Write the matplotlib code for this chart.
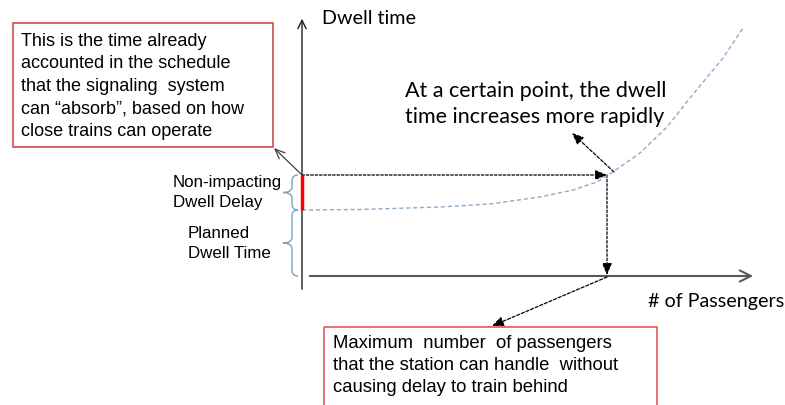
import matplotlib
matplotlib.use("Agg")
import matplotlib.pyplot as plt
from matplotlib.patches import FancyArrowPatch, Rectangle, PathPatch
from matplotlib.path import Path

# ---- data (pixel-space schematic values) ----
curve_x = [302, 360, 440, 490, 540, 573, 597, 613, 640, 667, 690, 723, 743]
curve_y = [210, 209.5, 207, 204, 197, 190, 182, 172, 153, 127, 98, 58, 28]
threshold_y = 175          # dwell time at which delay starts
planned_y = 210            # planned dwell time
max_pass_x = 607           # max passengers
origin = (302, 276)

box1_lines = ["This is the time already",
              "accounted in the schedule",
              "that the signaling  system",
              "can \u201cabsorb\u201d, based on how",
              "close trains can operate"]
box2_lines = ["Maximum  number  of passengers",
              "that the station can handle  without",
              "causing delay to train behind"]
rapid_lines = ["At a certain point, the dwell",
               "time increases more rapidly"]

W, H = 785, 405
fig = plt.figure(figsize=(W / 100, H / 100), dpi=100)
ax = fig.add_axes([0, 0, 1, 1])
ax.set_xlim(0, W)
ax.set_ylim(H, 0)
ax.axis("off")

arial = "Liberation Sans"
calibri = "Lato"

# axes
ax.add_patch(FancyArrowPatch((origin[0], 292), (origin[0], 16), arrowstyle="->,head_length=6,head_width=3",
                             color="#222222", lw=1.0, mutation_scale=1))
ax.add_patch(FancyArrowPatch((307, origin[1]), (756, origin[1]), arrowstyle="->,head_length=8,head_width=4",
                             color="#595959", lw=1.5, mutation_scale=1))

# curve
ax.plot(curve_x, curve_y, ls=(0, (3, 2)), color="#8eaacb", lw=1.0)

# red segment
ax.plot([origin[0], origin[0]], [threshold_y, planned_y], color="#ff0000", lw=2.5, solid_capstyle="butt")

# dotted guides
ax.add_patch(FancyArrowPatch((origin[0], threshold_y), (max_pass_x, threshold_y),
                             arrowstyle="-|>,head_length=7,head_width=3", color="black", lw=0.9,
                             ls=(0, (2, 1.5)), mutation_scale=1, shrinkA=0, shrinkB=0))
ax.add_patch(FancyArrowPatch((max_pass_x, threshold_y), (max_pass_x, origin[1] - 1),
                             arrowstyle="-|>,head_length=7,head_width=3", color="black", lw=0.9,
                             ls=(0, (2, 1.5)), mutation_scale=1, shrinkA=0, shrinkB=0))
ax.add_patch(FancyArrowPatch((614, 172), (572, 133),
                             arrowstyle="-|>,head_length=7,head_width=3", color="black", lw=0.9,
                             ls=(0, (2.5, 1.5)), mutation_scale=1, shrinkA=0, shrinkB=0))
ax.add_patch(FancyArrowPatch((max_pass_x, 277), (492, 326),
                             arrowstyle="-|>,head_length=7,head_width=3", color="black", lw=0.9,
                             ls=(0, (2.5, 1.5)), mutation_scale=1, shrinkA=0, shrinkB=0))
# solid arrow to box 1
ax.add_patch(FancyArrowPatch((origin[0], threshold_y), (274, 148),
                             arrowstyle="->,head_length=7,head_width=3", color="#404040", lw=0.9,
                             mutation_scale=1, shrinkA=0, shrinkB=0))

# braces
def brace(y0, y1, xr=298, xs=292, xt=283, d=6, color="#7da0c8"):
    ym = (y0 + y1) / 2
    verts = [(xr, y0), (xs, y0), (xs, y0 + d),
             (xs, ym - d), (xs, ym), (xt, ym),
             (xs, ym), (xs, ym + d),
             (xs, y1 - d), (xs, y1), (xr, y1)]
    codes = [Path.MOVETO, Path.CURVE3, Path.CURVE3,
             Path.LINETO, Path.CURVE3, Path.CURVE3,
             Path.CURVE3, Path.CURVE3,
             Path.LINETO, Path.CURVE3, Path.CURVE3]
    ax.add_patch(PathPatch(Path(verts, codes), fill=False, edgecolor=color, lw=1.0))

brace(threshold_y, planned_y)
brace(planned_y, origin[1])

# boxes
ax.add_patch(Rectangle((13, 23), 260, 124, fill=False, edgecolor="#c9504d", lw=1.2))
ax.add_patch(Rectangle((324, 327), 333, 80, fill=False, edgecolor="#e05a5a", lw=1.2))

for i, t in enumerate(box1_lines):
    ax.text(21, 41 + i * 22.6, t, fontsize=13.0, family=arial, va="center", ha="left", color="black")
for i, t in enumerate(box2_lines):
    ax.text(333, 344 + i * 22, t, fontsize=13.3, family=arial, va="center", ha="left", color="black")

for i, t in enumerate(rapid_lines):
    ax.text(405, 91 + i * 26, t, fontsize=15.5, family=calibri, va="center", ha="left", color="black")

ax.text(322, 19, "Dwell time", fontsize=14.2, family=calibri, va="center", ha="left")
ax.text(648, 301, "# of Passengers", fontsize=14.2, family=calibri, va="center", ha="left")

ax.text(282, 183, "Non-impacting", fontsize=12.2, family=arial, va="center", ha="right")
ax.text(173, 203, "Dwell Delay", fontsize=12.2, family=arial, va="center", ha="left")
ax.text(188, 233, "Planned", fontsize=12.2, family=arial, va="center", ha="left")
ax.text(188, 253, "Dwell Time", fontsize=12.2, family=arial, va="center", ha="left")

fig.savefig("out.png", dpi=100, facecolor="white")
